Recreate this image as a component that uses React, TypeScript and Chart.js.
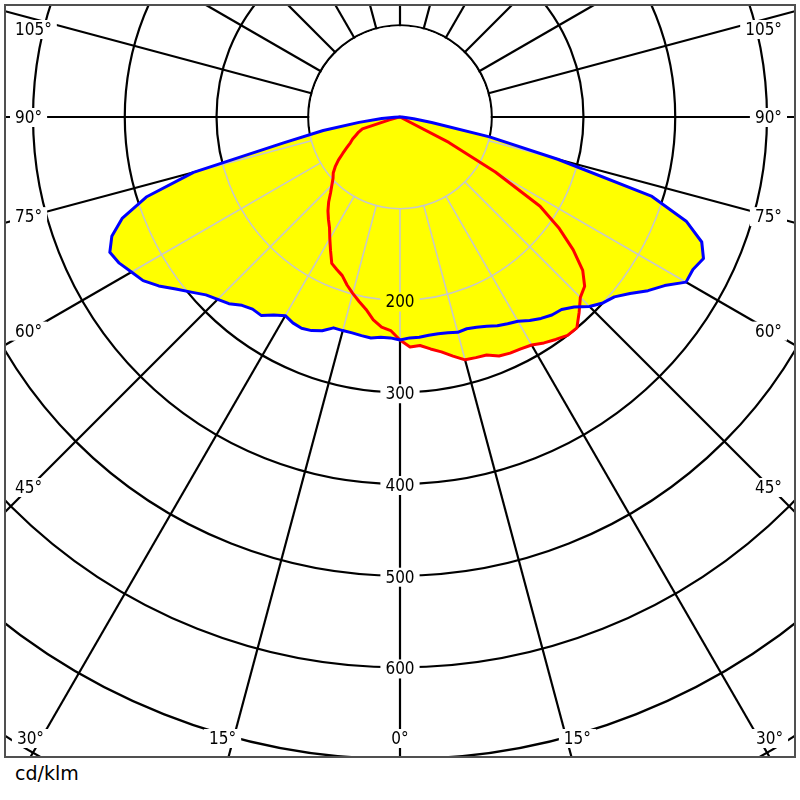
import React, { useEffect, useRef } from 'react';
import { Chart, registerables } from 'chart.js';

Chart.register(...registerables);

// Gamma angles (degrees from nadir) of each half-plane sample
const gammaDeg = [0, 2.5, 5, 7.5, 10, 12.5, 15, 17.5, 20, 22.5, 25, 27.5, 30, 32.5, 35, 37.5, 40, 42.5, 45, 47.5, 50, 52.5, 55, 57.5, 60, 62.5, 65, 67.5, 70, 72.5, 75, 77.5, 80, 82.5, 85, 87.5, 90];

// Blue plane (cd/klm), left half and right half
const blueLeft = [243, 241, 241, 243, 242, 241, 241, 241, 248, 252, 254, 253, 250, 256, 264, 264, 268, 276, 281, 287, 297, 308, 321, 332, 338, 345, 349, 340, 322, 290, 233, 130, 85, 45, 20, 6, 0];
const blueRight = [243, 241, 241, 240, 240, 241, 243, 242, 244, 247, 251, 254, 257, 263, 268, 272, 274, 281, 292, 300, 305, 316, 330, 342, 360, 360, 365, 356, 332, 288, 178, 100, 35, 15, 6, 2, 0];

// Red plane (cd/klm), left half and right half
const redLeft = [243, 233, 230, 223, 213, 206, 199, 192, 184, 180, 176, 164, 153, 143, 136, 129, 121, 112, 105, 99, 95, 89, 82, 74, 67, 61, 57, 52, 48, 43, 12, 3, 0, 0, 0, 0, 0];
const redRight = [243, 251, 250, 255, 260, 267, 274, 275, 276, 282, 284, 285, 287, 292, 296, 300, 300, 289, 278, 273, 260, 238, 212, 181, 120, 60, 0, 0, 0, 0, 0, 0, 0, 0, 0, 0, 0];

const ringValues = [100, 200, 300, 400, 500, 600, 700, 800];
const ringTickLabels = [200, 300, 400, 500, 600];
const angleTickLabels = [0, 15, 30, 45, 60, 75, 90, 105];

const SCALE_MAX = 872;
const circleDeg = Array.from({ length: 144 }, (_, i) => i * 2.5);

function planeSeries(left: number[], right: number[]) {
  return circleDeg.map((a) => {
    if (a <= 90) return left[gammaDeg.indexOf(a)];
    if (a >= 270) return right[gammaDeg.indexOf(360 - a)];
    return 0;
  });
}

const blueData = planeSeries(blueLeft, blueRight);
const redData = planeSeries(redLeft, redRight);

const FONT = '17px "DejaVu Sans Condensed", "Liberation Sans", sans-serif';

function drawLabel(ctx: CanvasRenderingContext2D, text: string, x: number, y: number, align: 'left' | 'right' | 'center', bg: string) {
  ctx.font = FONT;
  const w = ctx.measureText(text).width;
  const left = align === 'left' ? x : align === 'right' ? x - w : x - w / 2;
  ctx.fillStyle = bg;
  ctx.fillRect(left - 5, y - 9, w + 10, 19);
  ctx.fillStyle = '#000';
  ctx.textAlign = align;
  ctx.textBaseline = 'middle';
  ctx.fillText(text, x, y + 1.5);
}

const photometric = {
  id: 'photometric',
  beforeDatasetsDraw(chart: any) {
    const s = chart.scales.r;
    const ctx = chart.ctx;
    const r100 = s.getDistanceFromCenterForValue(100);
    ctx.save();
    ctx.beginPath();
    ctx.arc(s.xCenter, s.yCenter, r100 - 1.1, 0, Math.PI * 2);
    ctx.fillStyle = '#ffffff';
    ctx.fill();
    ctx.restore();
  },
  beforeDatasetDraw(chart: any, args: any) {
    if (args.index !== 1) return;
    const s = chart.scales.r;
    const ctx = chart.ctx;
    const path = new Path2D();
    [0, 1].forEach((di) => {
      const data = chart.data.datasets[di].data as number[];
      data.forEach((v, i) => {
        const p = s.getPointPositionForValue(i, v);
        if (i === 0) path.moveTo(p.x, p.y);
        else path.lineTo(p.x, p.y);
      });
      path.closePath();
    });
    ctx.save();
    ctx.clip(path);
    ctx.strokeStyle = '#c8c8c8';
    ctx.lineWidth = 1.6;
    ringValues.forEach((v) => {
      ctx.beginPath();
      ctx.arc(s.xCenter, s.yCenter, s.getDistanceFromCenterForValue(v), 0, Math.PI * 2);
      ctx.stroke();
    });
    const r100 = s.getDistanceFromCenterForValue(100);
    const rMax = s.getDistanceFromCenterForValue(SCALE_MAX);
    circleDeg.forEach((a, i) => {
      if (a % 15 !== 0) return;
      const p1 = s.getPointPosition(i, r100);
      const p2 = s.getPointPosition(i, rMax);
      ctx.beginPath();
      ctx.moveTo(p1.x, p1.y);
      ctx.lineTo(p2.x, p2.y);
      ctx.stroke();
    });
    ctx.restore();

    ctx.save();
    const nadirMax = Math.max(blueData[0], redData[0]);
    ringTickLabels.forEach((v) => {
      const p = s.getPointPositionForValue(0, v);
      drawLabel(ctx, String(v), p.x, p.y + 1, 'center', v < nadirMax ? '#ffff00' : '#ffffff');
    });
    ctx.restore();
  },
  afterDatasetsDraw(chart: any) {
    const s = chart.scales.r;
    const ctx = chart.ctx;
    const cx = s.xCenter;
    const cy = s.yCenter;
    ctx.save();
    angleTickLabels.forEach((g) => {
      const sides = g === 0 ? [0] : [-1, 1];
      const rad = (g * Math.PI) / 180;
      sides.forEach((side) => {
        let x: number;
        let y: number;
        let align: 'left' | 'right' | 'center';
        if (g >= 45) {
          y = cy + Math.max(-88, (370 * Math.cos(rad)) / Math.sin(rad));
          if (side < 0) {
            x = cx - 385;
            align = 'left';
          } else {
            x = cx + 382;
            align = 'right';
          }
        } else {
          y = cy + 621;
          x = cx + side * (621 * Math.tan(rad) + 11);
          align = 'center';
        }
        drawLabel(ctx, `${g}°`, x, y, align, '#ffffff');
      });
    });
    ctx.restore();
  },
};

export default function App() {
  const ref = useRef<HTMLCanvasElement | null>(null);
  useEffect(() => {
    if (!ref.current) return;
    const lineDs = (data: number[], color: string) => ({
      data,
      borderColor: color,
      borderWidth: 3,
      borderJoinStyle: 'round' as const,
      backgroundColor: 'rgba(0,0,0,0)',
      fill: false,
      pointRadius: 0,
      pointHoverRadius: 0,
      tension: 0,
    });
    const fillDs = (data: number[]) => ({
      data,
      borderColor: 'rgba(0,0,0,0)',
      borderWidth: 1,
      backgroundColor: '#ffff00',
      fill: true,
      pointRadius: 0,
      pointHoverRadius: 0,
      tension: 0,
    });
    const chart = new Chart(ref.current, {
      type: 'radar',
      data: {
        labels: circleDeg.map((a) => `${a}°`),
        datasets: [lineDs(blueData, '#0000ff'), lineDs(redData, '#ff0000'), fillDs(blueData), fillDs(redData)],
      },
      options: {
        responsive: false,
        maintainAspectRatio: false,
        animation: false,
        events: [],
        layout: { padding: 0 },
        plugins: { legend: { display: false }, tooltip: { enabled: false } },
        scales: {
          r: {
            min: 0,
            max: SCALE_MAX,
            startAngle: 180,
            ticks: { display: false, stepSize: 100 },
            pointLabels: { display: false },
            grid: {
              circular: true,
              color: (c: any) => (c.tick && c.tick.value % 100 === 0 ? '#000000' : 'rgba(0,0,0,0)'),
              lineWidth: 2.2,
            },
            angleLines: {
              display: true,
              color: '#000000',
              lineWidth: (c: any) => (circleDeg[c.index] % 15 === 0 ? 2.2 : 0),
            },
          },
        },
      } as any,
      plugins: [photometric],
    });
    return () => chart.destroy();
  }, []);

  return (
    <div style={{ position: 'absolute', left: 0, top: 0, width: 800, height: 800, background: '#fff', overflow: 'hidden' }}>
      <div style={{ position: 'absolute', left: 4, top: 4, width: 788, height: 750, border: '2px solid #505050', overflow: 'hidden' }}>
        <canvas
          ref={ref}
          width={1600}
          height={1600}
          style={{ position: 'absolute', left: -406, top: -689, width: 1600, height: 1600 }}
        />
      </div>
      <div style={{ position: 'absolute', left: 15, top: 761, font: '19px "DejaVu Sans", Verdana, sans-serif', lineHeight: '24px', color: '#000' }}>
        cd/klm
      </div>
    </div>
  );
}
